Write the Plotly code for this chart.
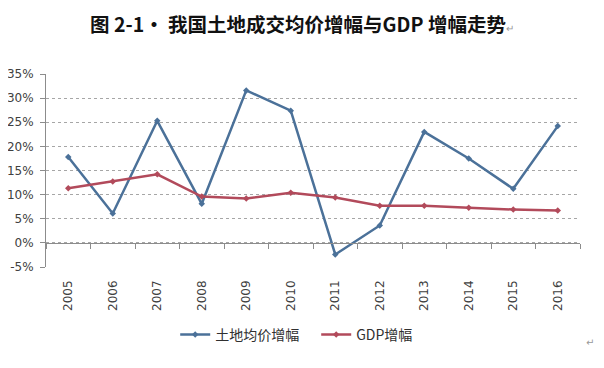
import plotly.graph_objects as go

years = ["2005", "2006", "2007", "2008", "2009", "2010", "2011", "2012", "2013", "2014", "2015", "2016"]
land_price_growth = [17.8, 6.1, 25.3, 8.1, 31.6, 27.4, -2.4, 3.6, 23.0, 17.5, 11.2, 24.2]
gdp_growth = [11.3, 12.7, 14.2, 9.6, 9.2, 10.4, 9.4, 7.7, 7.7, 7.3, 6.9, 6.7]
y_ticks = [-5, 0, 5, 10, 15, 20, 25, 30, 35]
y_ticklabels = [f"{v}%" for v in y_ticks]

title_text = "图 2-1· 我国土地成交均价增幅与GDP 增幅走势"
blue = "#4B7199"
red = "#B24A5B"
axis_gray = "#8C8C8C"
text_gray = "#404040"

fig = go.Figure()
fig.add_trace(go.Scatter(
    x=years, y=land_price_growth, name="土地均价增幅", mode="lines+markers",
    line=dict(color=blue, width=2.5), marker=dict(symbol="diamond", size=5, color=blue),
))
fig.add_trace(go.Scatter(
    x=years, y=gdp_growth, name="GDP增幅", mode="lines+markers",
    line=dict(color=red, width=2.5), marker=dict(symbol="diamond", size=5, color=red),
))
# invisible helper trace to realise the zero-line axis
fig.add_trace(go.Scatter(x=[0], y=[0], xaxis="x2", mode="markers", marker=dict(opacity=0),
                         showlegend=False, hoverinfo="skip"))

fig.update_layout(
    width=596, height=360,
    margin=dict(l=38, r=24, t=66, b=101),
    paper_bgcolor="white", plot_bgcolor="white",
    font=dict(family="DejaVu Sans, Noto Sans CJK SC", color=text_gray),
    xaxis=dict(
        type="category", categoryarray=years, range=[-0.5, 11.5],
        showgrid=False, zeroline=False, showline=False, ticks="",
        tickangle=-90, tickfont=dict(size=12, family="DejaVu Sans", color=text_gray),
        ticklabelstandoff=10, automargin=False,
    ),
    xaxis2=dict(
        overlaying="x", anchor="free", position=5 / 40, side="bottom",
        range=[-0.5, 11.5], tickvals=[i - 0.5 for i in range(13)],
        showticklabels=False, ticks="outside", ticklen=5, tickcolor=axis_gray,
        showline=True, linecolor=axis_gray, linewidth=1, showgrid=False, zeroline=False,
        automargin=False,
    ),
    yaxis=dict(
        range=[-5, 35], tickvals=y_ticks, ticktext=y_ticklabels,
        showgrid=True, gridcolor="#A6A6A6", griddash="dot", gridwidth=1,
        zeroline=False, showline=True, linecolor=axis_gray, linewidth=1,
        ticks="outside", ticklen=5, tickcolor=axis_gray,
        tickfont=dict(size=12, family="DejaVu Sans", color=text_gray),
        ticklabelstandoff=4, automargin=False,
    ),
    legend=dict(
        orientation="h", x=0.506, xanchor="center", y=-0.352, yanchor="middle",
        font=dict(size=14, family="Noto Sans CJK SC, DejaVu Sans", color="#303030"),
        itemwidth=30, tracegroupgap=0, entrywidth=96,
    ),
    showlegend=True,
)

fig.add_annotation(
    text="<b>" + title_text + "</b><span style='font-size:10px;color:#999'>↵</span>",
    xref="paper", yref="paper", x=0.48, y=1, yshift=51, xanchor="center", yanchor="middle",
    showarrow=False, font=dict(size=19.5, family="Noto Sans CJK SC", color="#111111"),
)
fig.add_annotation(
    text="↵", xref="paper", yref="paper", x=1.03, y=-0.43, showarrow=False,
    font=dict(size=10, color="#999999"),
)

fig.write_html("out.html")
